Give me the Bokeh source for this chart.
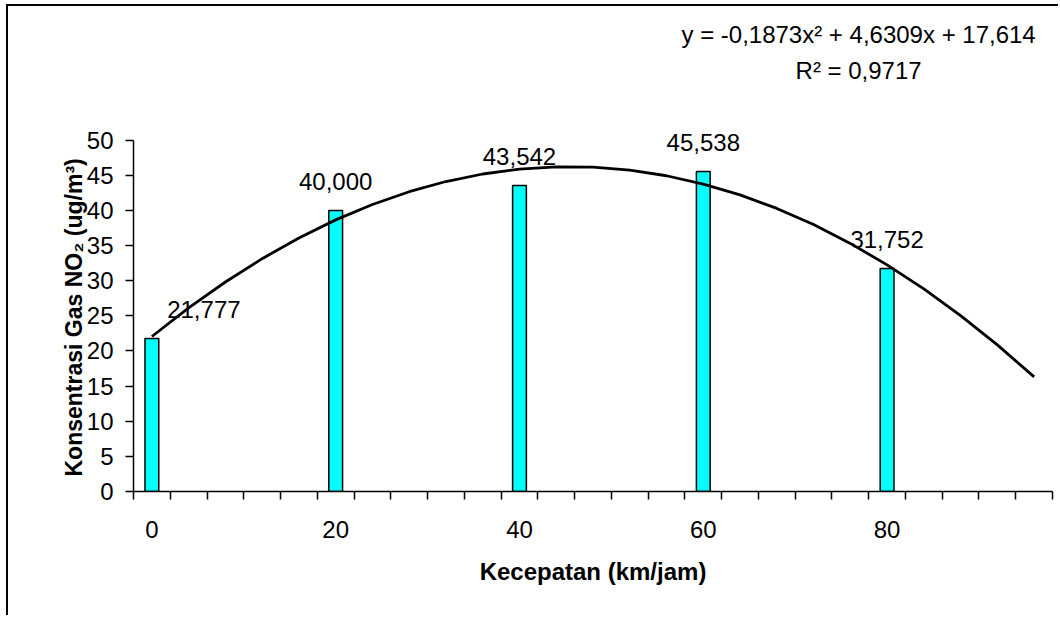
from bokeh.plotting import figure
from bokeh.models import Range1d, FixedTicker, Label, ColumnDataSource, Title
from bokeh.core.properties import value
from bokeh.embed import file_html
from bokeh.resources import INLINE

# ---- data ----
speeds = [0, 20, 40, 60, 80]
no2 = [21.777, 40.000, 43.542, 45.538, 31.752]
no2_labels = ["21,777", "40,000", "43,542", "45,538", "31,752"]
label_shift_px = [52, 0, 0, 0, 0]

# category axis: one category every 4 km/h, 25 categories
categories = [0, 4, 8, 12, 16, 20, 24, 28, 32, 36, 40, 44, 48,
              52, 56, 60, 64, 68, 72, 76, 80, 84, 88, 92, 96]
category_edges = [-2, 2, 6, 10, 14, 18, 22, 26, 30, 34, 38, 42, 46, 50,
                  54, 58, 62, 66, 70, 74, 78, 82, 86, 90, 94, 98]
# polynomial trendline as drawn in the chart (value at each category)
trend = [22.06, 26.13, 29.82, 33.14, 36.09, 38.66, 40.85, 42.67, 44.12,
         45.19, 45.89, 46.21, 46.16, 45.74, 44.94, 43.76, 42.21, 40.29,
         37.99, 35.31, 32.26, 28.84, 25.04, 20.87, 16.32]

y_ticks = [0, 5, 10, 15, 20, 25, 30, 35, 40, 45, 50]
x_tick_labels = [0, 20, 40, 60, 80]

eq_line1 = "y = -0,1873x² + 4,6309x + 17,614"
eq_line2 = "R² = 0,9717"
x_title = "Kecepatan (km/jam)"
y_title = "Konsentrasi Gas NO₂ (ug/m³)"

FONT = "Liberation Sans"
FS = "24px"

W, H = 1052, 611
p = figure(width=W, height=H, output_backend="svg", toolbar_location=None,
           x_range=Range1d(-2, 98), y_range=Range1d(0, 69.03),
           min_border_left=125, min_border_right=8, min_border_top=0,
           min_border_bottom=126)
p.styles = {"border-left": "2px solid black", "border-top": "2px solid black",
            "margin-left": "6px", "margin-top": "4px"}
p.outline_line_color = None
p.background_fill_color = "white"
p.border_fill_color = "white"
p.xgrid.visible = False
p.ygrid.visible = False

# y axis
ya = p.yaxis[0]
ya.ticker = FixedTicker(ticks=y_ticks)
ya.bounds = (0, 50)
ya.axis_line_color = "black"
ya.axis_line_width = 1.5
ya.major_tick_line_color = "black"
ya.major_tick_line_width = 1.5
ya.major_tick_out = 8
ya.major_tick_in = 0
ya.minor_tick_line_color = None
ya.major_label_standoff = 12
ya.major_label_text_font = FONT
ya.major_label_text_font_size = FS
ya.major_label_text_color = "black"

# y axis title, placed along the 0..50 part of the axis
p.add_layout(Title(text=y_title, align="left", offset=15, standoff=-7,
                   text_font=FONT, text_font_size="23px",
                   text_font_style="bold", text_color="black"), "left")

# x axis (category-like)
xa = p.xaxis[0]
xa.ticker = FixedTicker(ticks=x_tick_labels, minor_ticks=category_edges)
xa.bounds = (-2, 98)
xa.axis_line_color = "black"
xa.axis_line_width = 1.5
xa.major_tick_line_color = None
xa.major_tick_out = 0
xa.major_tick_in = 0
xa.minor_tick_line_color = "black"
xa.minor_tick_line_width = 1.5
xa.minor_tick_out = 8
xa.minor_tick_in = 0
xa.major_label_standoff = 21
xa.major_label_text_font = FONT
xa.major_label_text_font_size = FS
xa.major_label_text_color = "black"
xa.axis_label = x_title
xa.axis_label_text_font = FONT
xa.axis_label_text_font_size = FS
xa.axis_label_text_font_style = "bold"
xa.axis_label_text_color = "black"
xa.axis_label_standoff = 17

# bars
p.vbar(x=speeds, top=no2, width=1.5, fill_color="#00FFFF",
       line_color="black", line_width=1.5)

# trendline
p.line(categories, trend, line_color="black", line_width=2.8)

# data labels
src = ColumnDataSource(dict(x=speeds, y=no2, t=no2_labels, dx=label_shift_px))
p.text(x="x", y="y", text="t", x_offset="dx", y_offset=-29, source=src,
       text_align="center", text_baseline="middle",
       text_font=value(FONT), text_font_size=FS, text_color="black")

# trendline equation
for txt, yy in [(eq_line1, 65.1), (eq_line2, 59.9)]:
    p.add_layout(Label(x=76.9, y=yy, text=txt, text_align="center",
                       text_baseline="middle", text_font=FONT,
                       text_font_size=FS, text_color="black"))

open("out.html", "w").write(file_html(p, INLINE))
